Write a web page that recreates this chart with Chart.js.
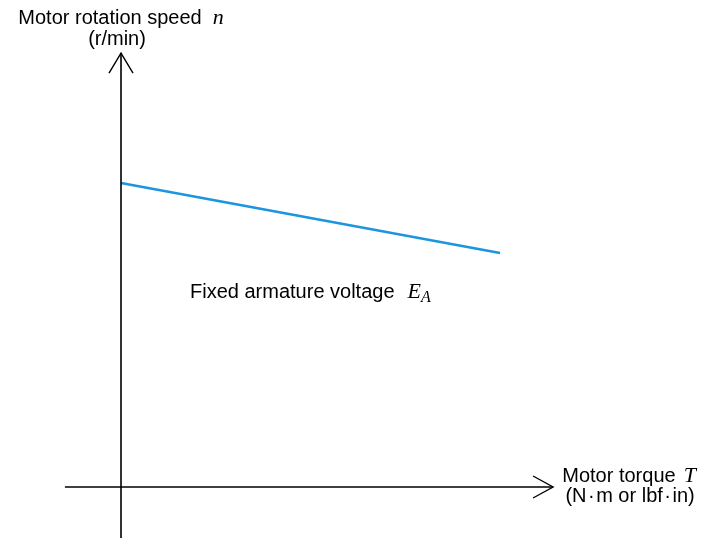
<!DOCTYPE html>
<html>
<head>
<meta charset="utf-8">
<script src="https://cdn.jsdelivr.net/npm/chart.js@4/dist/chart.umd.min.js"></script>
<style>
  html, body { margin: 0; padding: 0; background: #fff; }
  #wrap { width: 704px; height: 542px; }
</style>
</head>
<body>
<div id="wrap"><canvas id="c" width="704" height="542"></canvas></div>
<script>
// Speed–torque characteristic at a fixed armature voltage
const torque = [0, 10];          // N·m (arbitrary units)
const speed = [1500, 1155];      // r/min

// Axis extents (data units), incl. the arrow tips
const torqueAxis = [-1.48, 11.4];
const speedAxis = [-252, 2141];

// Visible window of the plot
const xWindow = [-3.193, 15.383];
const yWindow = [-271.4, 2403.0];

const SANS = '20px "Liberation Sans", Arial, sans-serif';
const MATH = 'italic 22px "Liberation Serif", "Times New Roman", serif';
const MATH_SUB = 'italic 16px "Liberation Serif", "Times New Roman", serif';

// Draw a run of text pieces; each piece may carry its own font, a leading gap and a baseline shift
function drawMixed(ctx, parts, x, y, align) {
  let total = 0;
  parts.forEach(p => { ctx.font = p.font; total += (p.gap || 0) + ctx.measureText(p.t).width; });
  let cx = align === 'center' ? x - total / 2 : x;
  ctx.textAlign = 'left';
  parts.forEach(p => {
    ctx.font = p.font;
    cx += p.gap || 0;
    ctx.fillText(p.t, cx, y + (p.dy || 0));
    cx += ctx.measureText(p.t).width;
  });
}

const axesPlugin = {
  id: 'axesArrows',
  afterDatasetsDraw(chart) {
    const ctx = chart.ctx;
    const xs = chart.scales.x, ys = chart.scales.y;
    const x0 = xs.getPixelForValue(0), y0 = ys.getPixelForValue(0);
    const xL = xs.getPixelForValue(torqueAxis[0]), xR = xs.getPixelForValue(torqueAxis[1]);
    const yB = ys.getPixelForValue(speedAxis[0]), yT = ys.getPixelForValue(speedAxis[1]);
    ctx.save();
    ctx.strokeStyle = '#000';
    ctx.lineWidth = 1.6;
    ctx.lineCap = 'butt';
    ctx.beginPath();
    ctx.moveTo(xL, y0); ctx.lineTo(xR, y0);
    ctx.moveTo(x0, yB); ctx.lineTo(x0, yT);
    ctx.stroke();
    // open arrow heads
    ctx.lineWidth = 1.4;
    ctx.beginPath();
    ctx.moveTo(xR - 20, y0 - 11); ctx.lineTo(xR, y0); ctx.lineTo(xR - 20, y0 + 11);
    ctx.moveTo(x0 - 12, yT + 20); ctx.lineTo(x0, yT); ctx.lineTo(x0 + 12, yT + 20);
    ctx.stroke();

    ctx.fillStyle = '#000';
    ctx.textBaseline = 'alphabetic';
    // y-axis title
    drawMixed(ctx, [{t: 'Motor rotation speed', font: SANS}, {t: 'n', font: MATH, gap: 11}], x0, 24, 'center');
    drawMixed(ctx, [{t: '(r/min)', font: SANS}], x0 - 4, 45, 'center');
    // x-axis title
    drawMixed(ctx, [{t: 'Motor torque', font: SANS}, {t: 'T', font: MATH, gap: 8}], xR + 76, 482, 'center');
    drawMixed(ctx, [
      {t: '(N', font: SANS}, {t: '\u00b7', font: SANS, gap: 1.5}, {t: 'm or lbf', font: SANS, gap: 1.5},
      {t: '\u00b7', font: SANS, gap: 1.5}, {t: 'in)', font: SANS, gap: 1.5}
    ], xR + 77, 502, 'center');
    // curve annotation
    drawMixed(ctx, [
      {t: 'Fixed armature voltage', font: SANS},
      {t: 'E', font: MATH, gap: 13},
      {t: 'A', font: MATH_SUB, dy: 4}
    ], x0 + 69, 298, 'left');
    ctx.restore();
  }
};

new Chart(document.getElementById('c'), {
  type: 'scatter',
  data: {
    datasets: [{
      data: torque.map((t, i) => ({x: t, y: speed[i]})),
      showLine: true,
      borderColor: '#1b95e0',
      borderWidth: 2.6,
      pointRadius: 0,
      fill: false
    }]
  },
  options: {
    responsive: false,
    animation: false,
    layout: { padding: 0 },
    plugins: { legend: { display: false }, tooltip: { enabled: false } },
    scales: {
      x: { type: 'linear', display: false, min: xWindow[0], max: xWindow[1] },
      y: { type: 'linear', display: false, min: yWindow[0], max: yWindow[1] }
    }
  },
  plugins: [axesPlugin]
});
</script>
</body>
</html>
